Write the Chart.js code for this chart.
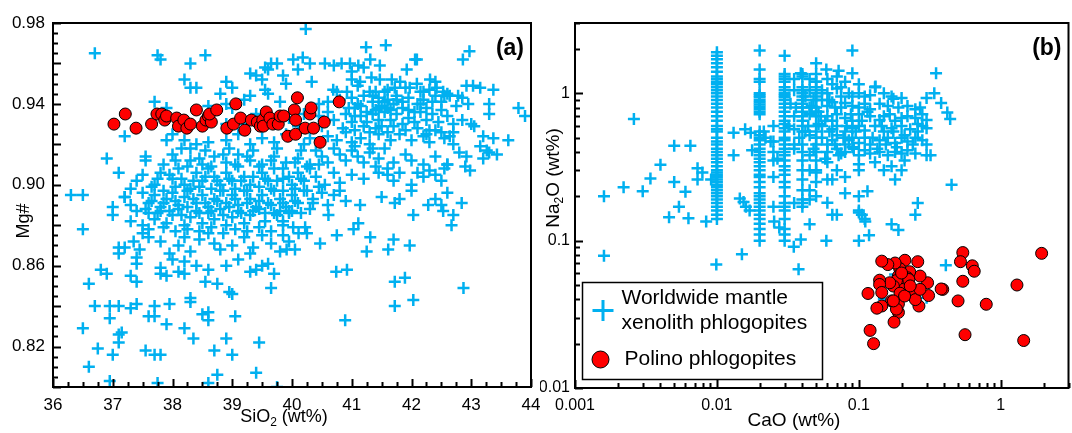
<!DOCTYPE html>
<html>
<head>
<meta charset="utf-8">
<script src="https://cdn.jsdelivr.net/npm/chart.js@4.4.0/dist/chart.umd.min.js"></script>
<style>
  html, body { margin: 0; background: #fff; overflow: hidden; }
  #wrap { position: relative; width: 1072px; height: 433px; overflow: hidden; }
  canvas { position: absolute; top: 0; }
</style>
</head>
<body>
<div id="wrap">
  <canvas id="chartA" width="540" height="433" style="left:0"></canvas>
  <canvas id="chartB" width="532" height="433" style="left:540px"></canvas>
</div>
<script>
// ---- panel (a): SiO2 (wt%) vs Mg# ----
const worldwideA = [
  [36.3,.895],[36.5,.895],[36.5,.878],[36.7,.965],[36.5,.829],[36.6,.851],[36.6,.810],[36.7,.840],[36.75,.819],
  [36.8,.858],[36.9,.856],[36.9,.913],[36.95,.840],[37.1,.840],[36.95,.834],[36.95,.803],[37.0,.816],[37.1,.826],
  [37.15,.827],[37.1,.822],[37.0,.889],[37.1,.906],[37.1,.869],[37.2,.869],[37.1,.866],[37.2,.924],[37.2,.894],
  [37.3,.882],[37.35,.872],[37.3,.855],[37.4,.852],[37.3,.839],[37.4,.841],[37.4,.864],[37.4,.861],[37.45,.868],
  [37.55,.818],[37.6,.835],[37.55,.914],[37.55,.912],[37.7,.816],[37.8,.816],[37.75,.802],[37.7,.835],[37.7,.840],
  [37.8,.856],[37.9,.855],[37.8,.859],[37.9,.831],[37.95,.841],[37.75,.964],[37.8,.962],[37.7,.941],[38.2,.829],
  [38.1,.857],[38.2,.856],[38.3,.844],[38.3,.842],[38.35,.824],[38.3,.960],[38.2,.952],[38.3,.948],[38.4,.948],
  [38.55,.964],[38.5,.836],[38.6,.837],[38.6,.833],[38.6,.802],[38.7,.818],[38.75,.806],[38.55,.852],[38.6,.858],
  [38.75,.851],[38.9,.824],[38.95,.847],[39.0,.846],[39.05,.835],[39.0,.816],[39.3,.857],[39.4,.858],[39.4,.807],
  [39.45,.822],[39.5,.860],[39.6,.861],[39.65,.849],[39.75,.800],[39.7,.856],
  [40.61,.885],[40.75,.875],[41.03,.878],[41.11,.881],[41.31,.874],[41.25,.867],[41.70,.873],[41.61,.868],[41.97,.870],
  [42.03,.885],[42.28,.890],[42.53,.887],[42.70,.885],[42.67,.880],[42.87,.849],[41.72,.852],[41.89,.854],[41.72,.840],
  [42.03,.843],[40.89,.833],[40.74,.857],[40.92,.858],[40.47,.871],[39.91,.868],[40.05,.868],[40.02,.879],[40.22,.879],
  [39.85,.882],[40.11,.876],[39.8,.887],[40.0,.887],[40.35,.891],[40.6,.890],[41.14,.890],[41.72,.891],[42.5,.890],[42.84,.891],
  [40.23,.977],[41.24,.968],[41.57,.969],[42.86,.962],[42.97,.966],[40.02,.962],[40.18,.963],[40.3,.960],[40.55,.960],
  [40.83,.960],[40.97,.960],[41.11,.959],[41.31,.962],[41.47,.959],[41.92,.957],[42.06,.962],[42.09,.962],[40.1,.957],
  [39.55,.958],[39.65,.960],[39.75,.960],[39.6,.957],[40.7,.959],[41.0,.956],[41.2,.958],
  [40.33,.951],[39.85,.954],[40.69,.947],[40.92,.946],[41.0,.952],[41.14,.951],[41.33,.953],[41.47,.952],[41.67,.952],
  [41.72,.948],[41.81,.951],[41.97,.948],[42.09,.950],[42.2,.946],[42.31,.952],[42.42,.948],[42.53,.946],[42.64,.944],
  [42.78,.944],[42.92,.949],[43.03,.949],[43.15,.948],[43.37,.947],[38.9,.951],[39.0,.948],[39.3,.955],[39.4,.954],
  [39.5,.952],[39.55,.947],[39.9,.950],
  [38.8,.945],[38.9,.940],[39.2,.942],[39.3,.944],[39.6,.945],[39.8,.941],[40.1,.943],[40.45,.940],[40.6,.941],[40.75,.946],
  [40.8,.942],[41.0,.943],[41.1,.940],[41.2,.944],[41.3,.946],[41.35,.941],[41.45,.943],[41.5,.939],[41.55,.946],[41.6,.942],
  [41.7,.940],[41.75,.944],[41.85,.941],[41.95,.943],[42.1,.940],[42.2,.942],[42.4,.944],[42.5,.941],[42.6,.945],[42.75,.939],
  [42.85,.943],[42.95,.940],[43.3,.940],[43.79,.938],[43.9,.934],[37.9,.938],[38.6,.939],[39.0,.938],[42.3,.947],[42.55,.944],
  [41.4,.937],[41.05,.938],
  [38.6,.933],[38.9,.930],[39.2,.930],[39.4,.935],[39.7,.931],[39.95,.933],[40.2,.935],[40.45,.934],[40.6,.936],[40.7,.932],
  [40.9,.935],[41.0,.931],[41.15,.934],[41.25,.931],[41.35,.935],[41.45,.932],[41.55,.936],[41.65,.932],[41.75,.935],
  [41.85,.930],[41.95,.933],[42.05,.931],[42.15,.936],[42.25,.932],[42.35,.935],[42.45,.931],[42.6,.934],[42.7,.930],
  [42.85,.932],[43.0,.930],[43.05,.929],[43.3,.935],[42.5,.937],[41.6,.938],[41.4,.928],[40.85,.928],[40.5,.929],[40.1,.929],
  [38.0,.925],[38.2,.922],[38.4,.920],[38.6,.921],[38.9,.922],[39.1,.925],[39.3,.920],[39.5,.923],[39.7,.921],[39.9,.925],
  [40.2,.920],[40.3,.923],[40.6,.924],[40.75,.922],[40.9,.926],[41.0,.921],[41.15,.923],[41.3,.920],[41.45,.925],[41.65,.922],
  [41.8,.925],[42.0,.922],[42.2,.924],[42.25,.925],[42.3,.921],[42.55,.923],[42.7,.926],[42.64,.924],[42.7,.920],[43.2,.924],
  [43.37,.923],[43.62,.922],[37.9,.922],[38.3,.918],[42.4,.927],[43.15,.919],[43.26,.917],[43.43,.915],
  [38.0,.915],[38.3,.912],[38.5,.910],[38.7,.914],[38.9,.911],[39.1,.915],[39.3,.912],[39.5,.910],[39.7,.914],[39.9,.911],
  [40.1,.913],[40.3,.910],[40.5,.914],[40.6,.911],[40.8,.915],[40.9,.912],[41.0,.917],[41.1,.914],[41.2,.911],[41.3,.916],
  [41.45,.913],[41.55,.918],[41.7,.911],[41.9,.915],[42.0,.912],[42.2,.910],[42.4,.914],[42.6,.910],[42.8,.916],[42.92,.914],
  [42.98,.907],[43.2,.913],[43.3,.916],[40.4,.917],[41.6,.908],[41.4,.909],
  [37.4,.902],[37.5,.905],[37.7,.900],[37.8,.906],[38.0,.903],[38.1,.908],[38.2,.900],[38.4,.906],[38.5,.902],[38.6,.908],
  [38.7,.904],[38.8,.900],[38.9,.906],[39.0,.902],[39.1,.909],[39.2,.904],[39.3,.900],[39.5,.906],[39.6,.902],[39.7,.908],
  [39.85,.903],[40.0,.900],[40.1,.906],[40.2,.902],[40.3,.908],[40.4,.904],[40.55,.900],[40.7,.906],[40.8,.901],[41.0,.905],
  [41.2,.903],[41.45,.906],[41.6,.905],[41.7,.902],[41.8,.906],[42.0,.900],[42.1,.906],[42.2,.904],[42.3,.907],[42.4,.905],
  [42.5,.902],[42.55,.908],[42.6,.910],[42.9,.909],[37.3,.898],[40.8,.897],
  [37.2,.894],[37.3,.890],[37.5,.896],[37.6,.891],[37.7,.895],[37.8,.889],[37.9,.893],[38.0,.896],[38.1,.890],[38.2,.894],
  [38.3,.898],[38.4,.891],[38.5,.895],[38.6,.889],[38.7,.893],[38.8,.897],[38.9,.891],[39.0,.895],[39.1,.890],[39.2,.897],
  [39.3,.893],[39.4,.889],[39.5,.895],[39.6,.891],[39.7,.897],[39.8,.893],[39.9,.889],[40.0,.895],[40.1,.891],[40.2,.897],
  [40.35,.893],[40.5,.896],[40.7,.895],[40.9,.892],[41.5,.894],[41.8,.893],[42.0,.897],[42.4,.893],[42.6,.896],
  [37.0,.885],[37.4,.887],[37.5,.880],[37.6,.886],[37.7,.883],[37.8,.887],[37.9,.881],[38.0,.885],[38.1,.888],[38.2,.880],
  [38.3,.884],[38.4,.887],[38.5,.881],[38.6,.886],[38.7,.883],[38.8,.888],[38.9,.880],[39.0,.884],[39.1,.887],[39.2,.881],
  [39.3,.885],[39.45,.888],[39.55,.882],[39.7,.886],[39.85,.880],[39.95,.886],[40.25,.876],
  [37.5,.876],[37.6,.874],[37.8,.872],[37.95,.866],[38.1,.870],[38.2,.874],[38.3,.867],[38.45,.873],[38.6,.876],[38.7,.871],
  [38.8,.868],[39.0,.870],[39.2,.874],[39.35,.869],[39.5,.875],[39.65,.871],[39.8,.867],[39.95,.872],
  [38.0,.863],[38.2,.862],[38.4,.860],[38.9,.860],[39.1,.863],[39.3,.866],
  [37.65,.899],[37.75,.903],[37.85,.897],[37.95,.905],[38.05,.899],[38.15,.903],[38.25,.897],[38.35,.902],[38.45,.899],
  [38.55,.904],[38.65,.898],[38.75,.902],[38.85,.897],[38.95,.903],[39.05,.898],[39.15,.902],[39.25,.897],[39.35,.904],
  [39.45,.899],[39.55,.903],[39.65,.898],[39.75,.902],[39.85,.897],[39.95,.904],[40.05,.898],[40.15,.903],[40.25,.897],
  [40.45,.899],
  [37.55,.888],[37.65,.892],[37.75,.886],[37.85,.891],[37.95,.887],[38.05,.892],[38.15,.885],[38.25,.889],[38.35,.893],
  [38.45,.886],[38.55,.891],[38.65,.887],[38.75,.892],[38.85,.885],[38.95,.889],[39.05,.893],[39.15,.886],[39.25,.891],
  [39.35,.887],[39.45,.892],[39.55,.886],[39.65,.890],[39.75,.885],[39.85,.891],[39.95,.887],[40.05,.892],[40.15,.886],
  [40.3,.888],
  [37.6,.878],[37.85,.879],[38.05,.877],[38.25,.878],[38.45,.877],[38.65,.879],[38.85,.876],[39.05,.878],[39.25,.877],
  [39.45,.879],[39.65,.877],[39.85,.875],
  [37.85,.910],[38.05,.912],[38.25,.909],[38.45,.913],[38.65,.909],[38.85,.915],[39.05,.910],[39.25,.914],[39.45,.909],
  [39.65,.912],[39.85,.908],[40.05,.911],[40.25,.909],[40.45,.910],
  [40.95,.938],[41.05,.934],[41.15,.939],[41.25,.936],[41.35,.944],[41.45,.938],[41.55,.941],[41.65,.937],[41.75,.942],
  [41.85,.938],[41.95,.937],[42.05,.936],[42.15,.940],[42.25,.938],[42.35,.941],
  [41.05,.927],[41.2,.929],[41.3,.926],[41.5,.929],[41.6,.926],[41.7,.929],[41.9,.927],[42.1,.928],[42.3,.927],[42.5,.926],
  [41.1,.949],[41.4,.946],[41.6,.947],[41.9,.948],[42.15,.946],[42.4,.951],
  [38.15,.918],[38.55,.917],[38.95,.918],[39.35,.917],[39.75,.918],[40.15,.917],[40.7,.918],[41.05,.919],[41.35,.918]
];
const polinoA = [
  [37.02,.930],[37.21,.935],[37.39,.928],[37.65,.930],[37.74,.935],[37.82,.935],[37.87,.932],[37.9,.934],[38.07,.933],
  [38.10,.929],[38.19,.932],[38.24,.928],[38.30,.930],[38.40,.937],[38.50,.929],[38.56,.932],[38.60,.934],[38.65,.931],
  [38.62,.935],[38.74,.937],[38.91,.928],[39.02,.930],[39.06,.940],[39.14,.933],[39.21,.927],[39.32,.932],[39.42,.931],
  [39.47,.929],[39.51,.932],[39.52,.929],[39.57,.936],[39.63,.933],[39.68,.930],[39.77,.930],[39.80,.934],[39.86,.934],
  [39.93,.924],[40.04,.937],[40.06,.932],[40.06,.925],[40.09,.943],[40.22,.928],[40.30,.935],[40.32,.938],[40.36,.928],
  [40.47,.921],[40.54,.931],[40.79,.941]
];
const mgTicks = [0.82, 0.86, 0.90, 0.94, 0.98];

// ---- panel (b): CaO (wt%) vs Na2O (wt%), log-log ----
const worldwideB = [
  [0.0016,0.20],[0.0016,0.079],[0.0022,0.23],[0.0026,0.67],[0.0030,0.216],[0.0034,0.264],[0.0040,0.328],[0.0046,0.144],
  [0.0050,0.44],[0.0050,0.25],[0.0054,0.17],[0.0060,0.215],[0.0063,0.142],[0.0065,0.44],[0.0073,0.31],[0.0073,0.26],
  [0.0079,0.29],[0.0084,0.135],[0.0091,0.26],[0.0099,0.069],[0.0131,0.54],[0.0131,0.38],[0.0145,0.193],[0.0154,0.183],
  [0.0158,0.57],[0.0150,0.081],[0.0173,0.54],[0.0177,0.41],[0.016,0.17],[0.017,0.16],[0.0214,0.55],[0.0239,0.47],
  [0.0253,0.135],[0.0267,0.36],[0.0275,0.123],[0.0348,0.091],[0.0376,0.064],[0.039,1.37],[0.039,0.102],[0.045,0.129],
  [0.0465,0.82],[0.059,0.10],[0.059,1.45],[0.060,0.181],[0.070,0.15],[0.072,1.42],[0.080,0.21],[0.090,1.95],[0.090,1.37],
  [0.100,0.10],[0.10,0.33],[0.10,0.20],[0.10,0.155],[0.111,0.135],[0.115,0.216],[0.118,0.109],[0.131,1.11],[0.175,0.92],
  [0.18,0.26],[0.17,0.129],[0.19,0.118],[0.26,0.18],[0.25,0.15],[0.30,0.93],[0.34,1.0],[0.35,1.37],[0.38,0.86],[0.42,0.74],
  [0.44,0.67],[0.45,0.24],[0.41,0.068],[0.18,0.059],[0.15,0.040],[0.30,0.041],
  [0.04,1.3],[0.045,1.25],[0.05,1.2],[0.06,1.25],[0.065,1.15],[0.07,1.3],[0.075,1.1],[0.08,1.2],[0.1,1.15],[0.13,1.1],
  [0.05,1.35],[0.035,1.25],
  [0.035,1.05],[0.045,1.05],[0.055,1.05],[0.06,1.0],[0.07,1.08],[0.075,0.95],[0.085,1.0],[0.09,0.95],[0.1,1.0],[0.11,0.95],
  [0.12,0.97],[0.15,1.0],[0.17,0.95],[0.2,0.93],
  [0.033,0.85],[0.045,0.8],[0.055,0.9],[0.06,0.82],[0.065,0.87],[0.075,0.8],[0.08,0.86],[0.09,0.82],[0.1,0.8],[0.11,0.85],
  [0.12,0.78],[0.14,0.85],[0.16,0.82],[0.19,0.8],[0.22,0.82],[0.25,0.78],[0.27,0.8],
  [0.035,0.7],[0.045,0.72],[0.06,0.7],[0.065,0.65],[0.07,0.72],[0.08,0.68],[0.09,0.65],[0.1,0.72],[0.12,0.7],[0.14,0.66],
  [0.15,0.7],[0.18,0.65],[0.2,0.68],[0.22,0.7],[0.25,0.68],[0.28,0.72],[0.3,0.66],
  [0.025,0.6],[0.035,0.57],[0.055,0.6],[0.065,0.57],[0.07,0.6],[0.08,0.55],[0.09,0.58],[0.1,0.6],[0.11,0.56],[0.13,0.6],
  [0.15,0.55],[0.17,0.58],[0.2,0.6],[0.23,0.57],[0.26,0.55],[0.28,0.6],[0.3,0.58],
  [0.022,0.5],[0.025,0.47],[0.035,0.45],[0.045,0.52],[0.055,0.5],[0.06,0.45],[0.065,0.48],[0.07,0.52],[0.08,0.45],
  [0.085,0.48],[0.09,0.5],[0.1,0.46],[0.11,0.5],[0.12,0.45],[0.14,0.48],[0.16,0.5],[0.18,0.46],[0.2,0.5],[0.22,0.47],
  [0.25,0.5],[0.28,0.48],[0.3,0.45],
  [0.025,0.4],[0.035,0.42],[0.045,0.38],[0.06,0.4],[0.07,0.42],[0.075,0.39],[0.08,0.4],[0.09,0.43],[0.1,0.38],[0.11,0.41],
  [0.12,0.39],[0.14,0.4],[0.16,0.38],[0.18,0.4],[0.2,0.39],[0.22,0.41],[0.25,0.39],[0.3,0.38],[0.32,0.38],
  [0.025,0.35],[0.045,0.3],[0.06,0.34],[0.07,0.3],[0.1,0.3],[0.13,0.34],[0.15,0.3],[0.17,0.32],[0.2,0.3],[0.21,0.35],
  [0.025,0.27],[0.045,0.22],[0.06,0.26],[0.065,0.26],[0.08,0.27],
  [0.025,0.17],[0.035,0.18],[0.045,0.19],[0.065,0.15],[0.1,0.16],[0.105,0.15],[0.11,0.14],
  [0.042,0.95],[0.048,0.9],[0.052,0.75],[0.058,0.65],[0.062,0.55],[0.068,0.45],[0.072,0.38],[0.078,0.5],[0.082,0.6],
  [0.088,0.72],[0.092,0.42],[0.095,0.55],[0.105,0.65],[0.115,0.75],[0.125,0.5],[0.135,0.42],[0.145,0.6],[0.155,0.45],
  [0.165,0.72],[0.175,0.55],[0.185,0.43],[0.21,0.52],[0.24,0.45],[0.26,0.62],[0.042,0.55],[0.048,0.42],[0.052,0.62],
  [0.058,0.36],[0.038,0.5],[0.032,0.6],[0.036,0.8],[0.044,0.6],[0.054,0.7],[0.062,0.9],[0.068,0.8]
];
// analyses reported at fixed CaO values stack into columns
const columnCaO = [0.01, 0.02, 0.03, 0.04, 0.05];
const columnNa2O = [
  [1.9,1.8,1.7,1.6,1.5,1.4,1.3,1.25,1.2,1.15,1.1,1.05,1.0,0.95,0.9,0.85,0.8,0.75,0.7,0.65,0.6,0.57,0.55,0.5,0.47,0.45,
   0.42,0.4,0.38,0.36,0.34,0.32,0.3,0.29,0.28,0.27,0.26,0.25,0.24,0.23,0.22,0.21,0.2,0.19,0.18,0.17,0.16,0.15,0.14],
  [1.95,1.45,1.25,1.2,1.0,0.97,0.94,0.9,0.87,0.84,0.81,0.78,0.75,0.72,0.55,0.52,0.5,0.48,0.45,0.42,0.4,0.38,0.36,0.34,
   0.32,0.3,0.28,0.27,0.25,0.23,0.21,0.2,0.19,0.18,0.17,0.16,0.15,0.14,0.13,0.12,0.11,0.1],
  [1.8,1.35,1.3,1.25,1.2,1.1,1.05,1.0,0.97,0.94,0.9,0.85,0.8,0.75,0.7,0.65,0.62,0.58,0.55,0.5,0.48,0.45,0.42,0.4,0.38,
   0.35,0.32,0.3,0.28,0.25,0.23,0.2,0.18,0.17,0.16,0.14,0.12,0.11,0.1],
  [1.35,1.1,1.05,1.0,0.95,0.9,0.85,0.8,0.75,0.7,0.65,0.6,0.55,0.45,0.4,0.35,0.3,0.26,0.22,0.19,0.18,0.17],
  [1.6,1.2,1.1,1.0,0.95,0.9,0.8,0.75,0.7,0.6,0.55,0.5,0.45,0.4,0.35,0.3,0.29,0.25,0.2]
];
const polinoB = [
  [1.94,0.082],[0.54,0.083],[0.52,0.072],[0.63,0.0675],[0.65,0.062],[0.54,0.053],[1.30,0.050],[0.50,0.039],[0.79,0.037],
  [0.56,0.023],[1.45,0.021],[0.39,0.0467],[0.38,0.047],[0.31,0.0424],[0.305,0.0518],[0.27,0.0575],[0.265,0.036],
  [0.26,0.072],[0.24,0.044],[0.228,0.0615],[0.211,0.0736],[0.22,0.056],[0.205,0.0505],[0.20,0.0467],[0.194,0.0646],
  [0.19,0.0575],[0.184,0.0536],[0.18,0.0705],[0.175,0.0492],[0.17,0.039],[0.19,0.0372],[0.19,0.0326],[0.184,0.0343],
  [0.177,0.028],[0.16,0.0688],[0.165,0.0518],[0.145,0.0726],[0.14,0.0539],[0.14,0.0504],[0.145,0.0445],[0.145,0.036],
  [0.116,0.0438],[0.134,0.0348],[0.12,0.0246],[0.127,0.020],[0.25,0.0398],[0.27,0.0467],[0.195,0.044],[0.21,0.0421],
  [0.225,0.0545],[0.23,0.0493],[0.2,0.0603],[0.175,0.039]
];
const caoTicks = [0.001, 0.01, 0.1, 1];
const na2oTicks = [0.01, 0.1, 1];

const FONT = '"Liberation Sans", Arial, sans-serif';
const BLUE = '#00B0F0';

function toXY(pairs) { return pairs.map(([x, y]) => ({ x, y })); }

function richText(ctx, parts, size, cx, cy) {
  const big = size + 'px ' + FONT, small = Math.round(size * 0.65) + 'px ' + FONT;
  let w = 0;
  parts.forEach(p => { ctx.font = p[1] ? small : big; w += ctx.measureText(p[0]).width; });
  let x = cx - w / 2;
  ctx.textAlign = 'left';
  ctx.textBaseline = 'middle';
  parts.forEach(p => {
    ctx.font = p[1] ? small : big;
    ctx.fillText(p[0], x, cy + (p[1] ? size * 0.3 : 0));
    x += ctx.measureText(p[0]).width;
  });
}

// frame, inward ticks, axis titles, panel letter and legend
const decorPlugin = {
  id: 'decor',
  afterDraw(chart, args, o) {
    const { ctx, chartArea: a } = chart;
    const xs = chart.scales.x, ys = chart.scales.y;
    ctx.save();
    ctx.strokeStyle = '#000';
    ctx.lineWidth = 2;
    ctx.beginPath();
    o.xMarks.forEach(([v, major]) => {
      const px = Math.round(xs.getPixelForValue(v)) + 0.5;
      ctx.moveTo(px, a.bottom); ctx.lineTo(px, a.bottom - (major ? 8 : 5));
    });
    o.yMarks.forEach(([v, major]) => {
      const py = Math.round(ys.getPixelForValue(v)) + 0.5;
      ctx.moveTo(a.left, py); ctx.lineTo(a.left + (major ? 8 : 5), py);
    });
    ctx.stroke();
    ctx.lineWidth = 2;
    ctx.strokeRect(a.left, a.top, a.right - a.left, a.bottom - a.top);

    ctx.fillStyle = '#000';
    ctx.font = 'bold 23px ' + FONT;
    ctx.textAlign = 'right';
    ctx.textBaseline = 'middle';
    ctx.fillText(o.letter, a.right - 7, a.top + 26);

    richText(ctx, o.xTitle, o.titleSize, o.xTitlePos[0], o.xTitlePos[1]);
    ctx.save();
    ctx.translate(o.yTitlePos[0], o.yTitlePos[1]);
    ctx.rotate(-Math.PI / 2);
    richText(ctx, o.yTitle, o.titleSize, 0, 0);
    ctx.restore();

    if (o.legend) {
      const bx = a.left + 7.5, by = a.top + 259.5, bw = 240, bh = 97;
      ctx.fillStyle = '#fff';
      ctx.fillRect(bx, by, bw, bh);
      ctx.lineWidth = 1.5;
      ctx.strokeStyle = '#000';
      ctx.strokeRect(bx, by, bw, bh);
      ctx.strokeStyle = BLUE;
      ctx.lineWidth = 3;
      ctx.beginPath();
      ctx.moveTo(bx + 10, by + 28); ctx.lineTo(bx + 31, by + 28);
      ctx.moveTo(bx + 20.5, by + 17.5); ctx.lineTo(bx + 20.5, by + 38.5);
      ctx.stroke();
      ctx.beginPath();
      ctx.arc(bx + 18, by + 77, 8.5, 0, Math.PI * 2);
      ctx.fillStyle = '#FF0000';
      ctx.fill();
      ctx.lineWidth = 1;
      ctx.strokeStyle = '#000';
      ctx.stroke();
      ctx.fillStyle = '#000';
      ctx.font = '21px ' + FONT;
      ctx.textAlign = 'left';
      ctx.textBaseline = 'middle';
      ctx.fillText('Worldwide mantle', bx + 39, by + 16);
      ctx.fillText('xenolith phlogopites', bx + 39, by + 40.5);
      ctx.fillText('Polino phlogopites', bx + 42, by + 76.5);
    }
    ctx.restore();
  }
};

const marksA_x = [], marksA_y = [];
for (let i = 0; i <= 32; i++) marksA_x.push([36 + i / 4, i % 4 === 0]);
for (let i = 0; i <= 36; i++) marksA_y.push([0.80 + i * 0.005, i % 4 === 0]);
function logMarks(lo, hi) {
  const m = [];
  for (let d = -3; d <= 1; d++) for (let k = 1; k <= 9; k++) {
    const v = k * Math.pow(10, d);
    if (v >= lo * 0.999 && v <= hi) m.push([v, k === 1]);
  }
  return m;
}

const tickFont = size => ({ family: FONT, size });
const noGrid = { display: false, drawTicks: false };
// keep the plot frame where the layout padding puts it (no extra room for end labels)
function fitX(h) { return s => { s.height = h; s.paddingLeft = 0; s.paddingRight = 0; }; }
function fitY(w) { return s => { s.width = w; s.paddingTop = 0; s.paddingBottom = 0; }; }

new Chart(document.getElementById('chartA'), {
  type: 'scatter',
  data: {
    datasets: [
      { label: 'Polino phlogopites', data: toXY(polinoA), pointStyle: 'circle', radius: 6,
        backgroundColor: '#FF0000', borderColor: '#000', borderWidth: 1 },
      { label: 'Worldwide mantle xenolith phlogopites', data: toXY(worldwideA), pointStyle: 'cross',
        radius: 6, borderColor: BLUE, borderWidth: 2.5 }
    ]
  },
  options: {
    responsive: false, maintainAspectRatio: false, animation: false, devicePixelRatio: 1, events: [],
    layout: { padding: { top: 23, right: 9, left: 0, bottom: 0 } },
    scales: {
      x: { type: 'linear', min: 36, max: 44, grid: noGrid, border: { display: false },
           ticks: { stepSize: 1, autoSkip: false, maxRotation: 0, padding: 8, color: '#000', font: tickFont(17) },
           afterFit: fitX(46) },
      y: { type: 'linear', min: 0.80, max: 0.98, grid: noGrid, border: { display: false },
           afterBuildTicks(s) { s.ticks = mgTicks.map(v => ({ value: v })); },
           ticks: { autoSkip: false, padding: 8, color: '#000', font: tickFont(17), callback: v => v.toFixed(2) },
           afterFit: fitY(53) }
    },
    plugins: {
      legend: { display: false }, tooltip: { enabled: false },
      decor: { xMarks: marksA_x, yMarks: marksA_y, letter: '(a)', titleSize: 18,
               xTitle: [['SiO', false], ['2', true], [' (wt%)', false]], xTitlePos: [284, 417],
               yTitle: [['Mg#', false]], yTitlePos: [24, 221], legend: false }
    }
  },
  plugins: [decorPlugin]
});

const columnPoints = [];
columnCaO.forEach((x, i) => columnNa2O[i].forEach(y => columnPoints.push([x, y])));

function configB() {
  return {
    type: 'scatter',
    data: {
      datasets: [
        { label: 'Polino phlogopites', data: toXY(polinoB), pointStyle: 'circle', radius: 6,
          backgroundColor: '#FF0000', borderColor: '#000', borderWidth: 1 },
        { label: 'Worldwide mantle xenolith phlogopites', data: toXY(worldwideB.concat(columnPoints)), pointStyle: 'cross',
          radius: 6, borderColor: BLUE, borderWidth: 2.5 }
      ]
    },
    options: {
      responsive: false, maintainAspectRatio: false, animation: false, devicePixelRatio: 1, events: [],
      layout: { padding: { top: 23, right: 4, left: 0, bottom: 0 } },
      scales: {
        x: { type: 'logarithmic', min: 0.001, max: 3, grid: noGrid, border: { display: false },
             afterBuildTicks(s) { s.ticks = caoTicks.map(v => ({ value: v })); },
             ticks: { autoSkip: false, maxRotation: 0, padding: 8, color: '#000', font: tickFont(16), callback: v => String(v) },
             afterFit: fitX(45) },
        y: { type: 'logarithmic', min: 0.01, max: 3, grid: noGrid, border: { display: false },
             afterBuildTicks(s) { s.ticks = na2oTicks.map(v => ({ value: v })); },
             ticks: { autoSkip: false, padding: 5, color: '#000', font: tickFont(16), callback: v => String(v) },
             afterFit: fitY(35) }
      },
      plugins: {
        legend: { display: false }, tooltip: { enabled: false },
        decor: { xMarks: logMarks(0.001, 3), yMarks: logMarks(0.01, 3), letter: '(b)', titleSize: 19,
                 xTitle: [['CaO (wt%)', false]], xTitlePos: [254, 421],
                 yTitle: [['Na', false], ['2', true], ['O (wt%)', false]], yTitlePos: [14, 178], legend: true }
      }
    },
    plugins: [decorPlugin]
  };
}

// the plot frame of panel (b) should end at x = 528 inside its canvas; widen the canvas if the layout kept extra room
const canvasB = document.getElementById('chartB');
let chartB = new Chart(canvasB, configB());
const extra = Math.round(528 - chartB.chartArea.right);
if (extra !== 0) {
  chartB.destroy();
  canvasB.width = 532 + extra;
  canvasB.height = 433;
  chartB = new Chart(canvasB, configB());
}
</script>
</body>
</html>
